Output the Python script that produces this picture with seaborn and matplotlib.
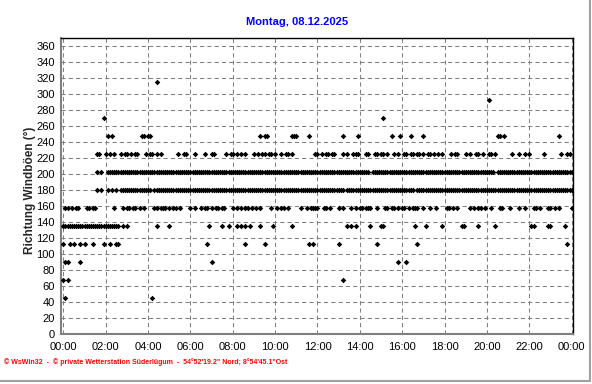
import numpy as np
import pandas as pd
import matplotlib
matplotlib.use("Agg")
import matplotlib.pyplot as plt
from matplotlib.lines import Line2D
from matplotlib.ticker import FixedLocator
import seaborn as sns

# ---------------- data (times in tenths of an hour) -------------
title = "Montag, 08.12.2025"
ylabel = "Richtung Windböen (°)"
footer = "© WsWin32  -  © private Wetterstation Süderlügum  -  54°52'19.2\" Nord; 8°54'45.1\"Ost"
xtick_labels = ["00:00", "02:00", "04:00", "06:00", "08:00", "10:00", "12:00",
                "14:00", "16:00", "18:00", "20:00", "22:00", "00:00"]

t_315 = [44]
t_292 = [201]
t_270 = [19, 151]
t_247 = [21, 23, 37, 38, 40, 41, 93, 95, 96, 108, 109, 110, 116, 132, 139,
         155, 159, 164, 170, 205, 206, 208, 234]
t_225 = [16, 17, 20, 22, 24, 27, 29, 30, 32, 34, 35, 39, 41, 42, 44, 46,
         54, 57, 58, 62, 67, 70, 71, 77, 79, 80, 82, 84, 86, 90, 92, 94,
         95, 97, 98, 100, 103, 105, 106, 108, 119, 120, 122, 124, 125, 127, 128,
         132, 134, 137, 138, 139, 143, 144, 147, 148, 150, 151, 153, 156, 158,
         161, 162, 164, 165, 167, 168, 170, 172, 173, 175, 177, 179, 183, 185,
         186, 190, 192, 195, 196, 198, 201, 202, 204, 212, 215, 218, 220, 227,
         235, 238, 239]
t_202 = [16, 18, 21, 22, 23, 24, 25, 26, 27, 28, 29,
         30, 31, 32, 33, 34, 35, 36, 37, 38, 39, 40, 41, 42, 43, 44, 45, 46, 47, 48, 49,
         50, 51, 52, 53, 54, 55, 56, 57, 58, 59, 60, 61, 62, 63, 64, 65, 66, 67, 68, 69,
         70, 71, 72, 73, 74, 75, 76, 77, 78, 79, 80, 81, 82, 83, 84, 85, 86, 87, 88, 89,
         90, 91, 92, 93, 94, 95, 96, 97, 98, 99, 100, 101, 102, 103, 104, 105, 106, 107,
         108, 109, 110, 111, 112, 113, 114, 115, 116, 117, 118, 119, 120, 121, 122, 123,
         124, 125, 126, 127, 128, 129, 130, 131, 132, 133, 134, 135, 136, 137, 138, 139,
         140, 141, 142, 143, 144, 146, 147, 148, 149, 150, 151, 152, 153, 154, 155,
         156, 157, 158, 159, 160, 161, 162, 163, 164, 165, 166, 167, 168, 169, 170, 171,
         172, 173, 174, 175, 176, 177, 178, 179, 180, 181, 182, 183, 184, 185, 186, 187,
         188, 189, 190, 191, 192, 193, 194, 195, 196, 197, 198, 199, 200, 201, 202, 203,
         205, 206, 207, 208, 209, 210, 211, 212, 213, 214, 215, 216, 217, 218, 219, 220,
         221, 222, 223, 224, 225, 226, 227, 228, 229, 230, 231, 232, 233, 234, 235, 236,
         237, 238, 239, 240]
t_180 = [16, 18, 21, 23, 25, 27, 28, 29, 30, 31, 32, 33, 34, 35, 36, 37, 38, 39, 40, 41,
         43, 44, 45, 46, 47, 48, 49, 50, 51, 52, 53, 54, 55, 56, 57, 58, 59, 60, 61, 62,
         63, 64, 65, 66, 67, 68, 69, 70, 71, 72, 73, 74, 75, 76, 77, 78, 79, 80, 81, 82,
         83, 84, 85, 86, 87, 88, 89, 90, 91, 92, 93, 94, 95, 96, 97, 98, 99, 100, 101,
         102, 103, 104, 105, 106, 107, 108, 109, 110, 111, 112, 113, 114, 115, 116, 117,
         118, 119, 120, 121, 122, 123, 124, 125, 126, 127, 128, 129, 130, 131, 132, 134,
         135, 136, 137, 138, 139, 140, 141, 142, 143, 144, 145, 146, 147, 148, 149, 150,
         151, 152, 153, 154, 155, 156, 157, 158, 159, 160, 161, 162, 163, 164, 165, 167,
         168, 169, 170, 171, 172, 173, 174, 175, 176, 177, 178, 179, 180, 181, 182, 183,
         184, 185, 186, 187, 188, 189, 190, 191, 192, 193, 194, 195, 196, 197, 198, 199,
         200, 201, 202, 203, 204, 205, 206, 207, 208, 209, 210, 211, 212, 213, 214, 215,
         216, 217, 218, 219, 220, 221, 222, 223, 224, 225, 226, 227, 228, 229, 230, 231,
         232, 233, 234, 235, 236, 237, 238, 239, 240]
t_157 = [1, 2, 4, 6, 7, 11, 12, 14, 15, 24, 28, 30, 31, 33, 34, 36, 38, 43, 44, 46,
         47, 48, 50, 52, 53, 55, 60, 62, 65, 67, 68, 70, 72, 73, 75, 76, 80, 82, 84, 86,
         87, 89, 91, 93, 98, 101, 103, 104, 106, 112, 115, 117, 118, 119, 120, 123, 124,
         126, 130, 132, 136, 138, 140, 141, 143, 144, 145, 148, 152, 153, 155, 156, 158,
         160, 161, 163, 165, 166, 167, 170, 173, 176, 181, 182, 184, 186, 192, 194, 196,
         197, 199, 202, 206, 207, 211, 215, 218, 222, 223, 225, 229, 230, 232, 234, 240]
t_135 = [0, 1, 2, 3, 4, 5, 6, 7, 8, 9, 10, 11, 12, 13, 14, 15, 16, 17, 18, 19, 20, 21,
         22, 23, 24, 25, 26, 28, 30, 44, 50, 69, 75, 78, 82, 84, 86, 88, 93, 99, 108,
         134, 136, 138, 145, 150, 151, 166, 171, 179, 188, 189, 196, 204, 221, 222,
         229, 230, 237]
t_112 = [0, 3, 5, 8, 10, 14, 19, 22, 25, 26, 68, 86, 95, 116, 118, 130, 148, 167, 238]
t_90 = [1, 2, 8, 70, 158, 162]
t_67 = [0, 2, 132]
t_45 = [1, 42]

levels = [315.0, 292.5, 270.0, 247.5, 225.0, 202.5, 180.0, 157.5, 135.0, 112.5, 90.0, 67.5, 45.0]
times = [t_315, t_292, t_270, t_247, t_225, t_202, t_180, t_157, t_135, t_112, t_90, t_67, t_45]

rows = []
for lev, ts in zip(levels, times):
    for t in ts:
        rows.append((t / 10.0, lev))
df = pd.DataFrame(rows, columns=["hour", "dir"])

# ---------------- figure ------------------------------------------------------------
sns.set_theme(style="white")
plt.rcParams["font.family"] = ["Liberation Sans", "DejaVu Sans"]

W, H = 592, 384
fig = plt.figure(figsize=(W / 100, H / 100), dpi=100)
fig.patch.set_facecolor("white")
x0, x1, y0, y1 = 61, 572.5, 38, 334
ax = fig.add_axes([x0 / W, 1 - y1 / H, (x1 - x0) / W, (y1 - y0) / H])
ax.set_facecolor("white")

sns.scatterplot(data=df, x="hour", y="dir", marker="D", color="black", s=8,
                linewidth=0, ax=ax, legend=False, zorder=3)

ax.set_xlim(-0.11, 24.04)
ax.set_ylim(0, 370)
ax.set_xticks(range(0, 25, 2))
ax.set_xticklabels(xtick_labels)
ax.set_yticks(range(0, 361, 20))
ax.xaxis.set_minor_locator(FixedLocator([i / 3 for i in range(0, 73)]))
ax.set_xlabel("")
ax.set_ylabel("")

ax.grid(True, which="major", color="#808080", linestyle=(0, (4, 3)), linewidth=0.75)
ax.set_axisbelow(True)

ax.tick_params(axis="both", which="major", direction="out", length=3, width=0.75,
               color="#404040", labelsize=8, labelcolor="black", pad=1.5)
ax.tick_params(axis="x", which="minor", direction="out", length=1.5, width=0.6, color="#404040")
ax.tick_params(axis="x", which="major", pad=3)

for side in ["top", "right"]:
    ax.spines[side].set_color("black")
    ax.spines[side].set_linewidth(1.0)
for side in ["left", "bottom"]:
    ax.spines[side].set_color("#808080")
    ax.spines[side].set_linewidth(1.5)

fig.text(297 / W, 1 - 22 / H, title, ha="center", va="center", color="#0000FF",
         fontsize=8, fontweight="bold")
fig.text(30 / W, 1 - 190 / H, ylabel, ha="center", va="center", rotation=90,
         fontsize=8.5, fontweight="bold")
fig.text(4 / W, 1 - 362 / H, footer, ha="left", va="center", color="red",
         fontsize=5, fontweight="bold")

# outer frame lines on right and bottom edge
fig.add_artist(Line2D([590 / W, 590 / W], [1 - 381 / H, 1.0], transform=fig.transFigure,
                      color="#a0a0a0", linewidth=1.5))
fig.add_artist(Line2D([0, 590 / W], [1 - 381 / H, 1 - 381 / H], transform=fig.transFigure,
                      color="#a0a0a0", linewidth=1.5))

fig.savefig("out.png", dpi=100, facecolor="white")
